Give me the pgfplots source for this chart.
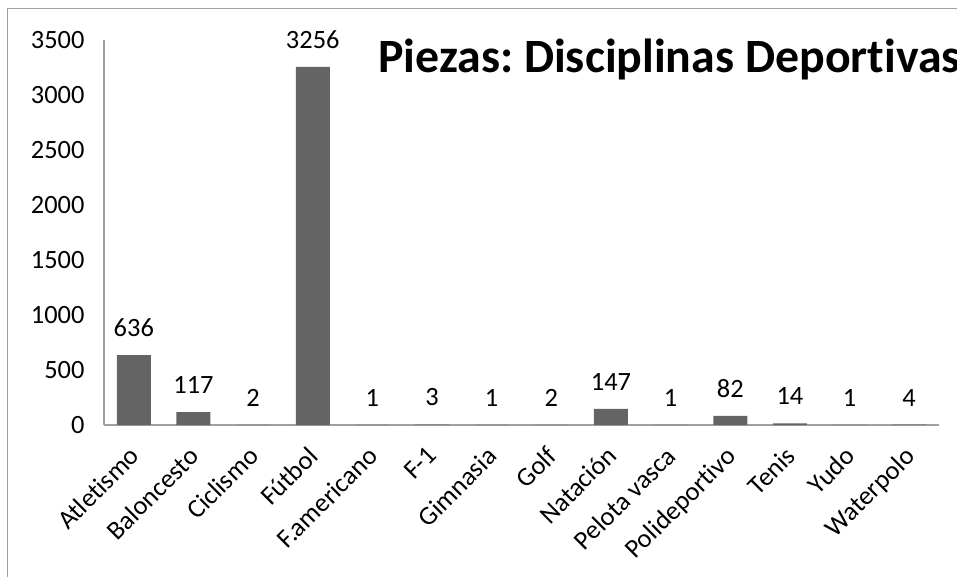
\documentclass[border=0pt]{standalone}
\usepackage{fontspec}
\setmainfont{Carlito}[Ligatures={NoCommon}]
\usepackage{pgfplots}
\pgfplotsset{compat=1.18}
\definecolor{barc}{RGB}{100,100,100}
\definecolor{axc}{RGB}{160,160,160}
\begin{document}
\frenchspacing
\begin{tikzpicture}
\path[use as bounding box] (-104bp,-152bp) rectangle (853bp,425bp);
\draw[axc, line width=1bp] (-96bp,-152bp) -- (-96bp,416bp) -- (853bp,416bp);
\begin{axis}[
  at={(0,0)}, anchor=south west,
  scale only axis, width=835bp, height=385bp,
  xmin=-0.5, xmax=13.5, ymin=0, ymax=3500,
  axis x line=bottom, axis y line=left,
  axis line style={axc, line width=1.2bp, -},
  ytick={0,500,1000,1500,2000,2500,3000,3500},
  xtick={0,...,13},
  xticklabels={Atletismo,Baloncesto,Ciclismo,Fútbol,F.americano,F-1,Gimnasia,Golf,Natación,Pelota vasca,Polideportivo,Tenis,Yudo,Waterpolo},
  major tick length=0pt,
  tick style={draw=none},
  /pgf/number format/assume math mode=true,
  /pgf/number format/1000 sep={},
  ticklabel style={font=\fontsize{26.5}{30}\selectfont},
  yticklabel style={xshift=-16bp},
  xticklabel style={xshift=-6bp, yshift=-17bp, rotate=45, anchor=north east, inner sep=2bp},
  ybar, bar width=34bp,
  nodes near coords,
  nodes near coords style={font=\fontsize{26.5}{30}\selectfont, anchor=south, yshift=15bp, /pgf/number format/assume math mode=true},
  clip=false,
]
\addplot[fill=barc, draw=none] coordinates {
(0,636) (1,117) (2,2) (3,3256) (4,1) (5,3) (6,1) (7,2) (8,147) (9,1) (10,82) (11,14) (12,1) (13,4)};
\end{axis}
\node[anchor=base west, inner sep=0pt, font=\fontsize{48}{52}\selectfont\bfseries] at (274bp,352bp) {Piezas: Disciplinas Deportivas};
\end{tikzpicture}
\end{document}
